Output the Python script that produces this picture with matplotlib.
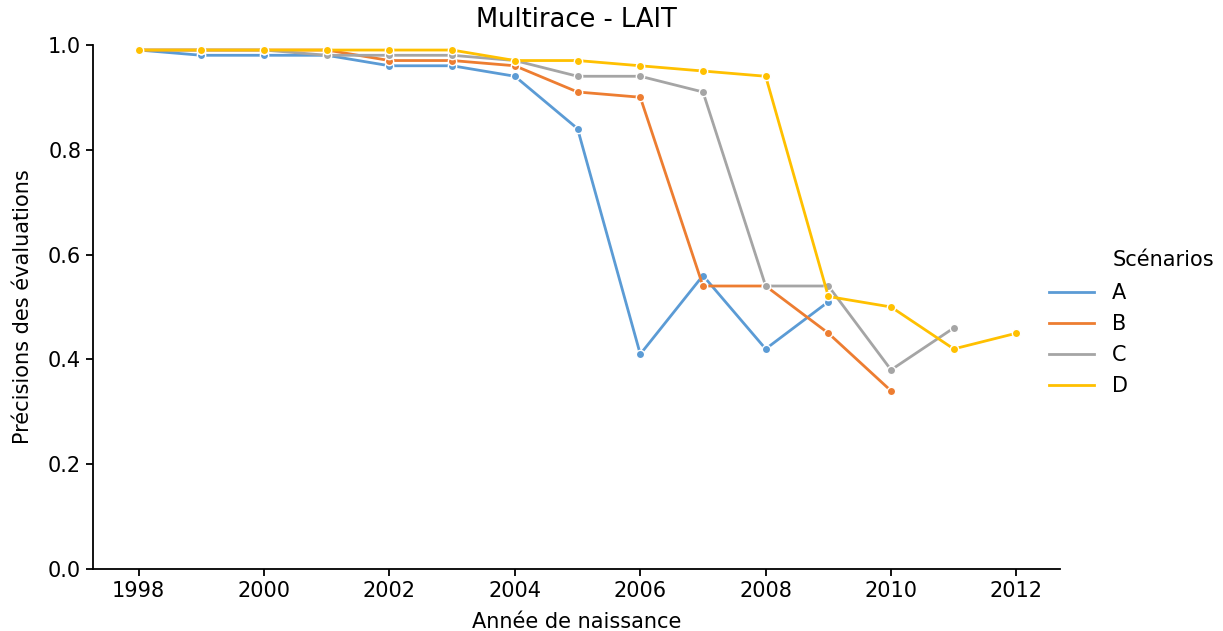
import matplotlib
matplotlib.use("Agg")
import matplotlib.pyplot as plt
from matplotlib.lines import Line2D

# Accuracy of genomic evaluations by birth year, per scenario
years_a = [1998, 1999, 2000, 2001, 2002, 2003, 2004, 2005, 2006, 2007, 2008, 2009]
acc_a = [0.99, 0.98, 0.98, 0.98, 0.96, 0.96, 0.94, 0.84, 0.41, 0.56, 0.42, 0.51]

years_b = [1998, 1999, 2000, 2001, 2002, 2003, 2004, 2005, 2006, 2007, 2008, 2009, 2010]
acc_b = [0.99, 0.99, 0.99, 0.99, 0.97, 0.97, 0.96, 0.91, 0.90, 0.54, 0.54, 0.45, 0.34]

years_c = [1998, 1999, 2000, 2001, 2002, 2003, 2004, 2005, 2006, 2007, 2008, 2009, 2010, 2011]
acc_c = [0.99, 0.99, 0.99, 0.98, 0.98, 0.98, 0.97, 0.94, 0.94, 0.91, 0.54, 0.54, 0.38, 0.46]

years_d = [1998, 1999, 2000, 2001, 2002, 2003, 2004, 2005, 2006, 2007, 2008, 2009, 2010, 2011, 2012]
acc_d = [0.99, 0.99, 0.99, 0.99, 0.99, 0.99, 0.97, 0.97, 0.96, 0.95, 0.94, 0.52, 0.50, 0.42, 0.45]

scenarios = ["A", "B", "C", "D"]
colors = ["#5B9BD5", "#ED7D31", "#A5A5A5", "#FFC000"]
series = [(years_a, acc_a), (years_b, acc_b), (years_c, acc_c), (years_d, acc_d)]
xticks = [1998, 2000, 2002, 2004, 2006, 2008, 2010, 2012]

plt.rcParams["font.family"] = ["DejaVu Sans"]
plt.rcParams["font.size"] = 15

fig = plt.figure(figsize=(12.23, 6.31), dpi=100)
ax = fig.add_axes([0.076, 0.098, 0.791, 0.831])

for name, col, (xs, ys) in zip(scenarios, colors, series):
    ax.plot(xs, ys, color=col, lw=2.0, marker="o", markersize=6,
            markeredgecolor="white", markeredgewidth=1.0, label=name)

ax.set_ylim(0, 1.0)
ax.set_xlim(1997.27, 2012.7)
ax.set_xticks(xticks)
ax.set_yticks([0.0, 0.2, 0.4, 0.6, 0.8, 1.0])
ax.set_yticklabels(["0.0", "0.2", "0.4", "0.6", "0.8", "1.0"])
ax.spines["top"].set_visible(False)
ax.spines["right"].set_visible(False)
ax.spines["left"].set_linewidth(1.3)
ax.spines["bottom"].set_linewidth(1.3)
ax.tick_params(width=1.3, length=5, labelsize=15)

ax.set_xlabel("Année de naissance", fontsize=15, labelpad=8)
ax.set_ylabel("Précisions des évaluations", fontsize=15, labelpad=11)
ax.set_title("Multirace - LAIT", fontsize=18.5, pad=13)

# legend entries drawn as plain line segments, title aligned with the labels
proxies = [Line2D([], [], color=c, lw=2.0) for c in colors]
leg = fig.legend(proxies, scenarios, loc="upper left",
                 bbox_to_anchor=(0.858, 0.551), frameon=False, fontsize=15,
                 handlelength=2.15, handletextpad=0.85, labelspacing=0.52,
                 borderpad=0.0, borderaxespad=0.0)
fig.text(1113 / 1223, 1 - 260 / 631, "Scénarios", fontsize=15,
         ha="left", va="center")

fig.savefig("out.png", dpi=100)
